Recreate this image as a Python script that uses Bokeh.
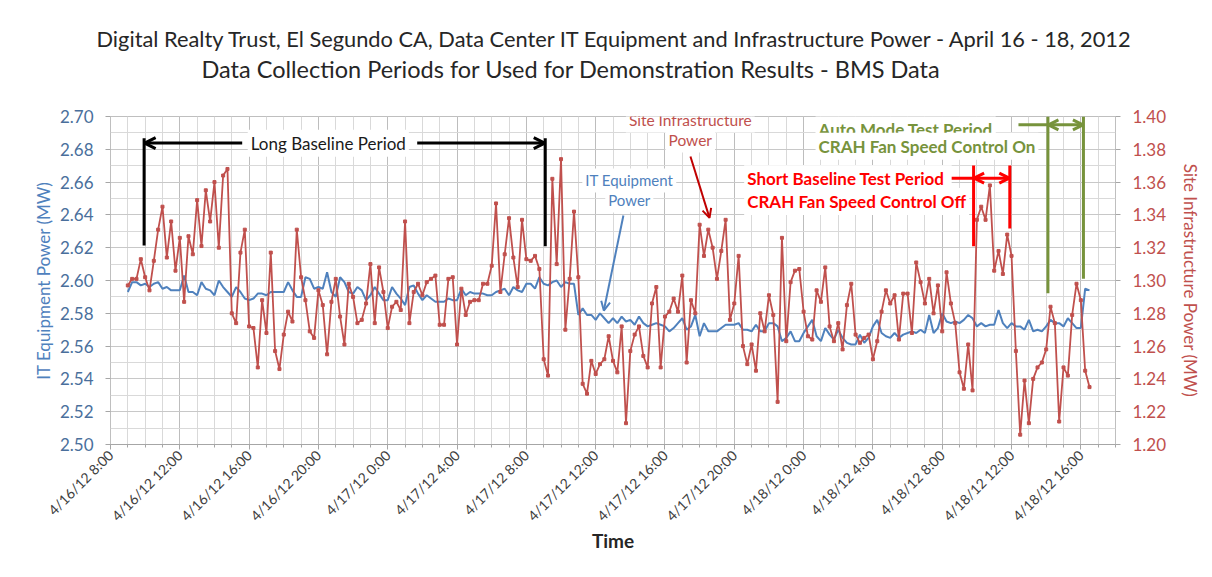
import math
import pandas as pd
from bokeh.plotting import figure
from bokeh.models import (Range1d, LinearAxis, FixedTicker, CustomJSTickFormatter,
                          NumeralTickFormatter, Label, Arrow, OpenHead, Title)
from bokeh.embed import file_html
from bokeh.resources import INLINE

# ---------------- data ----------------
start_time = "2012-04-16 09:00"
interval = "15min"

it_power = [
    2.593, 2.599, 2.599, 2.597, 2.598, 2.596, 2.598, 2.599, 2.595, 2.596, 2.594, 2.594, 2.594, 2.603, 2.593,
    2.593, 2.591, 2.599, 2.595, 2.594, 2.591, 2.600, 2.596, 2.593, 2.590, 2.596, 2.593, 2.589, 2.588, 2.589,
    2.592, 2.592, 2.591, 2.593, 2.593, 2.593, 2.593, 2.599, 2.594, 2.590, 2.590, 2.602,
    2.601, 2.595, 2.596, 2.595, 2.605, 2.593, 2.590, 2.602, 2.599, 2.593, 2.592, 2.596, 2.594, 2.588, 2.591,
    2.596, 2.592, 2.588, 2.588, 2.596, 2.592, 2.589, 2.585, 2.596, 2.597, 2.592, 2.588, 2.591, 2.589, 2.587,
    2.587, 2.587, 2.589, 2.588, 2.588, 2.595, 2.591, 2.593, 2.592, 2.592, 2.592, 2.591, 2.591, 2.593,
    2.594, 2.595, 2.591, 2.596, 2.594, 2.593, 2.598, 2.598, 2.595, 2.602, 2.598, 2.597, 2.599, 2.600, 2.596,
    2.599, 2.598, 2.598, 2.579, 2.583, 2.579, 2.579, 2.576, 2.580, 2.577, 2.574, 2.577, 2.574, 2.578, 2.575,
    2.576, 2.573, 2.578, 2.574, 2.572, 2.573, 2.574, 2.573, 2.572, 2.569, 2.571, 2.574, 2.577, 2.570,
    2.572, 2.579, 2.566, 2.574, 2.569, 2.569, 2.569, 2.571, 2.573, 2.573, 2.573, 2.574, 2.570, 2.570, 2.569,
    2.573, 2.569, 2.569, 2.574, 2.574, 2.572, 2.563, 2.565, 2.569, 2.563, 2.563, 2.568, 2.572, 2.576, 2.566,
    2.563, 2.571, 2.567, 2.564, 2.570, 2.565, 2.562, 2.561, 2.561, 2.567, 2.562, 2.565, 2.572, 2.576, 2.568,
    2.566,
    2.565, 2.568, 2.565, 2.567, 2.568, 2.569, 2.568, 2.570, 2.568, 2.579, 2.568, 2.571, 2.580, 2.575, 2.574,
    2.575, 2.574, 2.576, 2.579, 2.577, 2.572, 2.574, 2.572, 2.573, 2.573, 2.582, 2.574, 2.571, 2.574, 2.572,
    2.572, 2.570, 2.576, 2.569, 2.570, 2.569, 2.572, 2.576, 2.574, 2.574, 2.572, 2.577, 2.574, 2.571, 2.571,
    2.595, 2.594,
]

site_power = [
    1.297, 1.301, 1.301, 1.313, 1.302, 1.294, 1.312, 1.331, 1.345, 1.314, 1.336, 1.306, 1.326, 1.287, 1.327,
    1.316, 1.349, 1.321, 1.355, 1.336, 1.360, 1.320, 1.364, 1.368, 1.280, 1.274, 1.317, 1.331, 1.272, 1.271,
    1.247, 1.288, 1.268, 1.317, 1.257, 1.246, 1.267, 1.281, 1.275, 1.331, 1.302, 1.288,
    1.269, 1.265, 1.294, 1.285, 1.255, 1.287, 1.301, 1.278, 1.261, 1.298, 1.290, 1.274, 1.276, 1.286, 1.310,
    1.274, 1.308, 1.293, 1.271, 1.284, 1.287, 1.282, 1.336, 1.274, 1.293, 1.298, 1.291, 1.299, 1.301, 1.303,
    1.273, 1.273, 1.301, 1.302, 1.261, 1.295, 1.279, 1.287, 1.288, 1.288, 1.298, 1.298, 1.309, 1.347,
    1.293, 1.316, 1.338, 1.314, 1.296, 1.337, 1.313, 1.312, 1.315, 1.307, 1.252, 1.242, 1.362, 1.310, 1.374,
    1.270, 1.301, 1.342, 1.302, 1.237, 1.231, 1.251, 1.243, 1.249, 1.252, 1.266, 1.251, 1.244, 1.272, 1.213,
    1.257, 1.267, 1.272, 1.254, 1.247, 1.286, 1.296, 1.247, 1.278, 1.281, 1.289, 1.281, 1.303, 1.250,
    1.288, 1.280, 1.334, 1.315, 1.331, 1.320, 1.301, 1.318, 1.337, 1.276, 1.286, 1.315, 1.260, 1.249, 1.261,
    1.245, 1.280, 1.269, 1.291, 1.279, 1.226, 1.326, 1.263, 1.299, 1.306, 1.307, 1.281, 1.266, 1.264, 1.294,
    1.287, 1.308, 1.272, 1.263, 1.274, 1.258, 1.285, 1.298, 1.267, 1.262, 1.265, 1.267, 1.252, 1.263, 1.281,
    1.294,
    1.286, 1.291, 1.264, 1.292, 1.292, 1.268, 1.311, 1.299, 1.286, 1.301, 1.280, 1.297, 1.269, 1.305, 1.286,
    1.274, 1.244, 1.234, 1.261, 1.233, 1.337, 1.345, 1.337, 1.358, 1.306, 1.318, 1.304, 1.328, 1.315, 1.257,
    1.206, 1.239, 1.213, 1.240, 1.247, 1.250, 1.258, 1.284, 1.274, 1.214, 1.247, 1.242, 1.279, 1.298, 1.288,
    1.245, 1.235,
]

axis_start = "2012-04-16 08:00"
axis_end = "2012-04-18 18:00"
major_tick_hours = 4
left_ticks = [2.50, 2.52, 2.54, 2.56, 2.58, 2.60, 2.62, 2.64, 2.66, 2.68, 2.70]
right_ticks = [1.20, 1.22, 1.24, 1.26, 1.28, 1.30, 1.32, 1.34, 1.36, 1.38, 1.40]

title_1 = "Digital Realty Trust, El Segundo CA, Data Center IT Equipment and Infrastructure Power -  April 16 - 18,  2012"
title_2 = "Data Collection Periods for Used for Demonstration Results  - BMS Data"

# ---------------- helpers ----------------
EPOCH = pd.Timestamp("1970-01-01")


def ms(ts):
    return (pd.Timestamp(ts) - EPOCH) / pd.Timedelta(milliseconds=1)


def T(h):
    """axis position h hours after the axis start"""
    return ms(pd.Timestamp(axis_start) + pd.Timedelta(hours=h))


n = min(len(it_power), len(site_power))
times = pd.date_range(start_time, periods=n, freq=interval)
x_ms = [ms(t) for t in times]

total_hours = (pd.Timestamp(axis_end) - pd.Timestamp(axis_start)) / pd.Timedelta(hours=1)
major_ticks = [T(h) for h in range(0, int(total_hours) + 1, major_tick_hours)]
minor_ticks = [T(h) for h in range(0, int(total_hours) + 1)]

FONT = "Lato"
BLUE = "#4F81BD"
RED = "#C0504D"
AXIS_BLUE = "#4A6F9C"
GREEN = "#77933C"
BRIGHT_RED = "#FF0000"
TITLE_COLOR = "#262626"

p = figure(width=1204, height=569, x_axis_type="datetime",
           x_range=Range1d(T(0), T(total_hours)), y_range=Range1d(2.50, 2.70),
           output_backend="svg", toolbar_location=None,
           min_border_left=110, min_border_right=81, min_border_top=116, min_border_bottom=125)
p.outline_line_color = "#bfbfbf"
p.background_fill_color = "white"
p.border_fill_color = "white"

# titles: p.title is drawn outermost, the added Title sits nearest to the plot
p.title.text = title_1
p.title.align = "left"
p.title.offset = -14
p.title.text_font = FONT
p.title.text_font_size = "21.8px"
p.title.text_font_style = "normal"
p.title.text_color = TITLE_COLOR
p.title.standoff = -66
p.add_layout(Title(text=title_2, align="left", offset=91, text_font=FONT, text_font_size="23.5px",
                   text_font_style="normal", text_color=TITLE_COLOR, standoff=68), "above")

p.extra_y_ranges = {"site": Range1d(1.20, 1.40)}

# x axis
xt = FixedTicker(ticks=major_ticks, minor_ticks=minor_ticks)
xa = p.xaxis[0]
xa.ticker = xt
xa.formatter = CustomJSTickFormatter(code="""
const d = new Date(tick);
const yy = String(d.getUTCFullYear()).slice(2);
return (d.getUTCMonth()+1) + "/" + d.getUTCDate() + "/" + yy + " " + d.getUTCHours() + ":" +
       String(d.getUTCMinutes()).padStart(2, "0");
""")
xa.major_label_orientation = math.pi / 4
xa.major_label_text_font = FONT
xa.major_label_text_font_size = "14px"
xa.major_label_text_color = "#404040"
xa.axis_label = "Time"
xa.axis_label_text_font = FONT
xa.axis_label_text_font_size = "19px"
xa.axis_label_text_font_style = "bold"
xa.axis_label_text_color = TITLE_COLOR
xa.axis_label_standoff = -4
xa.axis_line_color = "#a6a6a6"
xa.major_tick_line_color = "#a6a6a6"
xa.minor_tick_line_color = "#a6a6a6"
xa.major_tick_out = 5
xa.major_tick_in = 0
xa.minor_tick_out = 3
xa.minor_tick_in = 0
xa.major_label_standoff = 3

# left axis
ya = p.yaxis[0]
ya.ticker = FixedTicker(ticks=left_ticks)
ya.formatter = NumeralTickFormatter(format="0.00")
ya.major_label_text_font = FONT
ya.major_label_text_font_size = "17px"
ya.major_label_text_color = AXIS_BLUE
ya.axis_label = "IT Equipment Power (MW)"
ya.axis_label_text_font = FONT
ya.axis_label_text_font_size = "17px"
ya.axis_label_text_font_style = "normal"
ya.axis_label_text_color = BLUE
ya.axis_label_standoff = 3
ya.axis_line_color = None
ya.major_tick_line_color = "#a6a6a6"
ya.major_tick_out = 5
ya.major_tick_in = 0
ya.minor_tick_line_color = None
ya.major_label_standoff = 12

# right axis
ra = LinearAxis(y_range_name="site", ticker=FixedTicker(ticks=right_ticks),
                formatter=NumeralTickFormatter(format="0.00"),
                axis_label="Site Infrastructure Power (MW)")
ra.major_label_text_font = FONT
ra.major_label_text_font_size = "17px"
ra.major_label_text_color = RED
ra.axis_label_text_font = FONT
ra.axis_label_text_font_size = "17px"
ra.axis_label_text_font_style = "normal"
ra.axis_label_text_color = RED
ra.axis_label_standoff = 11
ra.axis_line_color = None
ra.major_tick_line_color = "#a6a6a6"
ra.major_tick_out = 5
ra.major_tick_in = 0
ra.minor_tick_line_color = None
ra.major_label_standoff = 12
p.add_layout(ra, "right")

# grids
p.xgrid.ticker = xt
p.xgrid.grid_line_color = "#bdbdbd"
p.xgrid.minor_grid_line_color = "#d9d9d9"
p.ygrid.ticker = FixedTicker(ticks=left_ticks,
                             minor_ticks=[2.50 + 0.01 * k for k in range(21)])
p.ygrid.grid_line_color = "#c8c8c8"
p.ygrid.minor_grid_line_color = "#d9d9d9"

# series
p.line(x_ms[:n], it_power[:n], line_color=BLUE, line_width=2)
p.line(x_ms[:n], site_power[:n], line_color=RED, line_width=1.8, y_range_name="site")
p.scatter(x_ms[:n], site_power[:n], marker="square", size=3, color=RED, y_range_name="site")

# ---------------- annotations ----------------
def label(h, y, text, color, size, style="normal", align="center", bg=True):
    lb = Label(x=T(h), y=y, text=text, text_color=color, text_font=FONT,
               text_font_size=size, text_font_style=style, text_align=align,
               text_baseline="middle")
    if bg:
        lb.background_fill_color = "white"
        lb.background_fill_alpha = 1.0
        lb.padding = 3
    p.add_layout(lb)


def seg(h0, y0, h1, y1, color, width=3, start=False, end=False, head=11):
    a = Arrow(x_start=T(h0), y_start=y0, x_end=T(h1), y_end=y1,
              line_color=color, line_width=width,
              start=OpenHead(size=head, line_color=color, line_width=width) if start else None,
              end=OpenHead(size=head, line_color=color, line_width=width) if end else None)
    p.add_layout(a)


# long baseline period
seg(1.94, 2.6868, 1.94, 2.6213, "black")
seg(25.09, 2.6868, 25.09, 2.6209, "black")
seg(7.6, 2.6838, 1.97, 2.6838, "black", end=True)
seg(17.7, 2.6838, 25.06, 2.6838, "black", end=True)
label(12.57, 2.6837, "Long Baseline Period", "#1a1a1a", "17px")

# IT equipment pointer
seg(29.6, 2.6396, 28.47, 2.5817, BLUE, width=2, end=True, head=9)
label(29.94, 2.6610, "IT Equipment", BLUE, "15px")
label(29.94, 2.6488, "Power", BLUE, "15px")

# site infrastructure pointer
seg(33.47, 2.6756, 34.57, 2.6382, "#C00000", width=2, end=True, head=9)
label(33.46, 2.6976, "Site Infrastructure", RED, "15.5px")
label(33.46, 2.6854, "Power", RED, "15.5px")

# short baseline test period
seg(49.81, 2.6701, 49.81, 2.6209, BRIGHT_RED)
seg(51.90, 2.6701, 51.90, 2.6317, BRIGHT_RED)
seg(48.5, 2.6624, 49.81, 2.6624, BRIGHT_RED)
seg(49.84, 2.6624, 51.87, 2.6624, BRIGHT_RED, start=True, end=True, head=10)
label(36.57, 2.6620, "Short Baseline  Test Period", BRIGHT_RED, "17px", style="bold", align="left")
label(36.57, 2.6482, "CRAH Fan Speed Control Off", BRIGHT_RED, "17px", style="bold", align="left")

# auto mode test period
seg(54.10, 2.7000, 54.10, 2.5923, GREEN)
seg(56.15, 2.7000, 56.15, 2.6010, GREEN)
seg(52.4, 2.6949, 54.10, 2.6949, GREEN)
seg(54.13, 2.6949, 56.12, 2.6949, GREEN, start=True, end=True, head=10)
label(40.69, 2.6922, "Auto Mode Test Period", GREEN, "17px", style="bold", align="left")
label(40.69, 2.6818, "CRAH Fan Speed Control On", GREEN, "17px", style="bold", align="left")

open("out.html", "w").write(file_html(p, INLINE))
